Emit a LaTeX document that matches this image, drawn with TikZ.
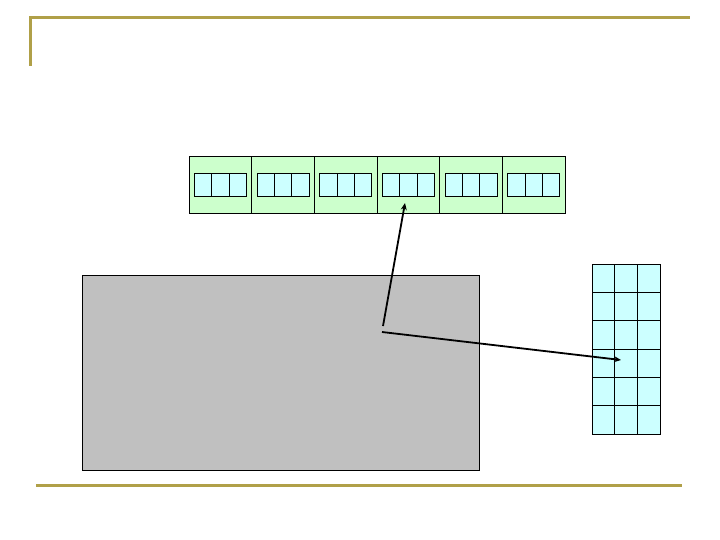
\documentclass[tikz,border=0pt]{standalone}
\usepackage{tikz}
\usetikzlibrary{
	arrows.meta,
	calc,
	positioning
}
\definecolor{LightGreen}{RGB}{204,255,204}
\definecolor{LightCyan}{RGB}{204,255,255}
\definecolor{GoldLine}{RGB}{176,160,72}
\definecolor{PanelGray}{RGB}{192,192,192}

\begin{document}
\begin{tikzpicture}[x=1pt, y=-1pt,
	cellbox/.style={draw, fill=LightGreen, inner sep=0, outer sep=0, minimum width=62.67pt, minimum height=57pt, anchor=north west},
	slotbox/.style={draw, fill=LightCyan, inner sep=0, outer sep=0, minimum width=17.33pt, minimum height=23pt},
	gridbox/.style={draw, fill=LightCyan, inner sep=0, outer sep=0, minimum width=22.67pt, minimum height=28.33pt, anchor=north west},
	pointer/.style={line width=1.8pt, -{Stealth[length=7pt, width=6pt]}}]
			\useasboundingbox (0,0) rectangle (720,540);
			% gold frame lines
			\draw[GoldLine, line width=3pt] (30,66) -- (30,18) -- (690,18);
			\draw[GoldLine, line width=3pt] (36,485) -- (682,485);
			% row of six cells, each holding three slots
			\foreach \i in {1,...,6} {
				\node[cellbox] (c\i) at ({189+62.67*(\i-1)},156) {};
				\node[slotbox] (c\i-2) at (c\i.center) {};
				\node[slotbox, left=0pt of c\i-2] (c\i-1) {};
				\node[slotbox, right=0pt of c\i-2] (c\i-3) {};
			}
			% gray panel
			\node[draw, fill=PanelGray, inner sep=0, minimum width=397pt, minimum height=195pt, anchor=north west] (panel) at (82,275) {};
			% grid on the right
			\foreach \r in {1,...,6} {
				\foreach \k in {1,2,3} {
					\node[gridbox] (g\r\k) at ({592+22.67*(\k-1)},{264+28.33*(\r-1)}) {};
				}
			}
			% pointers
			\coordinate (srcA) at (383,326);
			\coordinate (srcB) at (382,332);
			\coordinate (tipA) at (405,203);
			\coordinate (tipB) at (621,360);
			\draw[pointer] (srcA) -- (tipA);
			\draw[pointer] (srcB) -- (tipB);
		\end{tikzpicture}
\end{document}
